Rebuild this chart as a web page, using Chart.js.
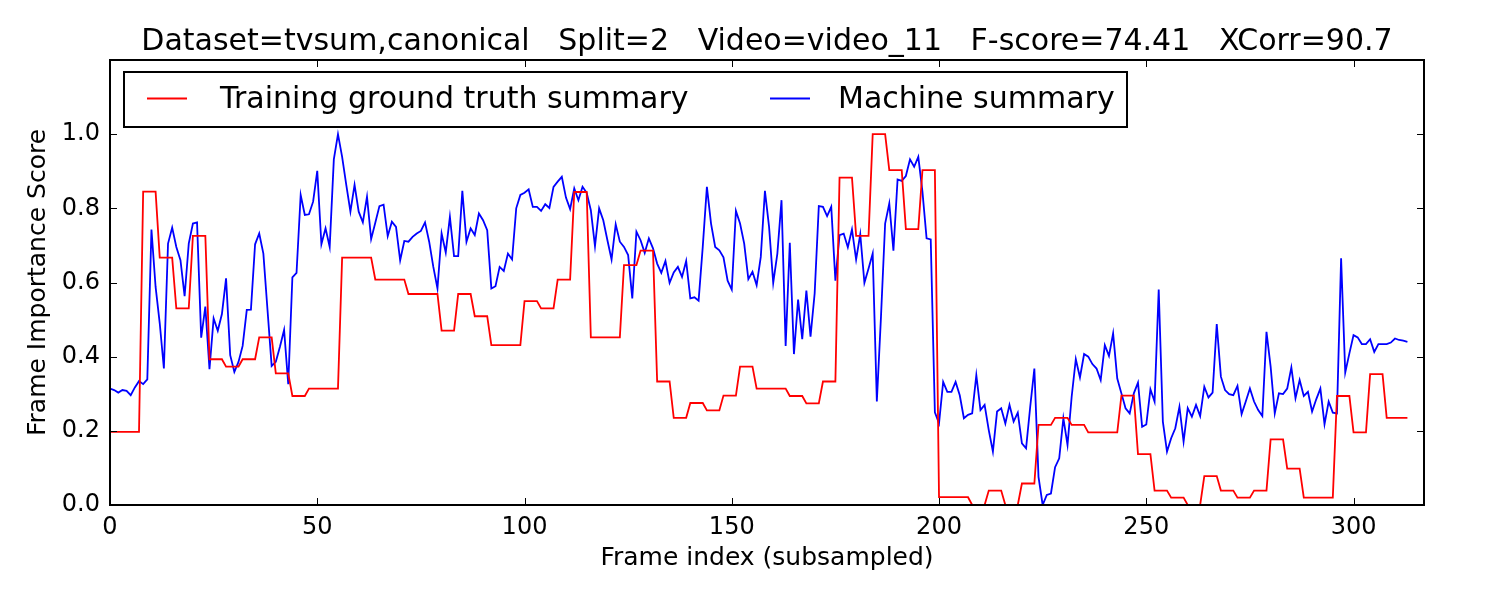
<!DOCTYPE html>
<html>
<head>
<meta charset="utf-8">
<script src="https://cdn.jsdelivr.net/npm/chart.js@4.4.1/dist/chart.umd.min.js"></script>
<style>
  html, body { margin: 0; padding: 0; background: #fff; }
  #wrap { width: 1500px; height: 600px; }
</style>
</head>
<body>
<div id="wrap"><canvas id="chart" width="1500" height="600"></canvas></div>
<script>
// values, one entry per subsampled frame
const TITLE = "Dataset=tvsum,canonical   Split=2   Video=video_11   F-score=74.41   XCorr=90.7"
const SERIES_LABELS = ["Training ground truth summary", "Machine summary"]
const X_TICKS = [0, 50, 100, 150, 200, 250, 300]
const Y_TICKS = [0.0, 0.2, 0.4, 0.6, 0.8, 1.0]

const gtScores = [
  .197, .197, .197, .197, .197, .197, .197, .197,
  .845, .845, .845, .845, .667, .667, .667, .667,
  .53, .53, .53, .53, .726, .726, .726, .726,
  .393, .393, .393, .393, .373, .373, .373, .373,
  .393, .393, .393, .393, .452, .452, .452, .452,
  .355, .355, .355, .355, .294, .294, .294, .294,
  .314, .314, .314, .314, .314, .314, .314, .314,
  .667, .667, .667, .667, .667, .667, .667, .667,
  .608, .608, .608, .608, .608, .608, .608, .608,
  .569, .569, .569, .569, .569, .569, .569, .569,
  .47, .47, .47, .47, .569, .569, .569, .569,
  .509, .509, .509, .509, .431, .431, .431, .431,
  .431, .431, .431, .431, .55, .55, .55, .55,
  .53, .53, .53, .53, .608, .608, .608, .608,
  .844, .844, .844, .844, .452, .452, .452, .452,
  .452, .452, .452, .452, .647, .647, .647, .647,
  .686, .686, .686, .686, .333, .333, .333, .333,
  .235, .235, .235, .235, .275, .275, .275, .275,
  .255, .255, .255, .255, .295, .295, .295, .295,
  .373, .373, .373, .373, .314, .314, .314, .314,
  .314, .314, .314, .314, .294, .294, .294, .294,
  .274, .274, .274, .274, .333, .333, .333, .333,
  .883, .883, .883, .883, .726, .726, .726, .726,
  1.0, 1.0, 1.0, 1.0, .903, .903, .903, .903,
  .744, .744, .744, .744, .903, .903, .903, .903,
  .021, .021, .021, .021, .021, .021, .021, .021,
  0, 0, 0, 0, .039, .039, .039, .039,
  0, 0, 0, 0, .058, .058, .058, .058,
  .216, .216, .216, .216, .235, .235, .235, .235,
  .216, .216, .216, .216, .196, .196, .196, .196,
  .196, .196, .196, .196, .295, .295, .295, .295,
  .137, .137, .137, .137, .039, .039, .039, .039,
  .02, .02, .02, .02, 0, 0, 0, 0,
  .078, .078, .078, .078, .039, .039, .039, .039,
  .02, .02, .02, .02, .039, .039, .039, .039,
  .177, .177, .177, .177, .098, .098, .098, .098,
  .02, .02, .02, .02, .02, .02, .02, .02,
  .294, .294, .294, .294, .196, .196, .196, .196,
  .353, .353, .353, .353, .235, .235, .235, .235,
  .235, .235
]

const machineScores = [
  .314, .31, .303, .31, .308, .296, .317, .334, .326, .339,
  .743, .588, .49, .368, .705, .748, .696, .66, .563, .705,
  .759, .762, .451, .535, .366, .503, .47, .515, .611, .404,
  .359, .386, .429, .526, .527, .703, .732, .678, .526, .375,
  .386, .427, .472, .326, .614, .626, .836, .782, .784, .818,
  .901, .703, .746, .696, .932, 1.0, .939, .863, .791, .863,
  .791, .762, .831, .717, .761, .806, .81, .725, .764, .75,
  .66, .712, .71, .723, .732, .739, .762, .71, .642, .584,
  .732, .681, .777, .671, .671, .847, .71, .746, .728, .786,
  .768, .741, .584, .59, .642, .631, .678, .662, .8, .836,
  .842, .851, .804, .804, .793, .811, .801, .858, .872, .885,
  .829, .798, .854, .822, .858, .842, .795, .698, .8, .768,
  .714, .662, .757, .71, .696, .674, .557, .737, .714, .68,
  .719, .692, .651, .626, .658, .599, .627, .642, .615, .658,
  .557, .56, .551, .696, .858, .759, .696, .687, .668, .605,
  .581, .793, .759, .705, .609, .629, .593, .669, .847, .75,
  .599, .678, .822, .429, .707, .407, .554, .447, .578, .454,
  .571, .806, .804, .779, .804, .605, .728, .732, .695, .743,
  .662, .73, .599, .638, .678, .279, .508, .759, .813, .686,
  .878, .874, .887, .932, .912, .939, .845, .719, .716, .25,
  .22, .332, .305, .305, .332, .296, .234, .243, .247, .35,
  .256, .27, .202, .144, .252, .261, .22, .27, .225, .249,
  .166, .153, .265, .368, .076, 0, .027, .031, .102, .126,
  .234, .162, .292, .393, .344, .407, .4, .38, .368, .337,
  .431, .402, .463, .341, .301, .261, .247, .301, .33, .211,
  .217, .312, .279, .581, .225, .144, .18, .207, .265, .171,
  .261, .238, .27, .24, .319, .29, .303, .488, .346, .31,
  .299, .296, .321, .245, .279, .314, .279, .256, .24, .467,
  .373, .247, .301, .299, .314, .371, .288, .337, .294, .305,
  .252, .285, .314, .218, .279, .249, .247, .665, .357, .409,
  .458, .452, .434, .434, .447, .413, .434, .434, .434, .438,
  .449, .445, .443, .44
]

const FONT = "'DejaVu Sans', sans-serif"
const COLORS = ["#ff0000", "#0000ff"]
const TICK_LEN = 7

// matplotlib-style frame: full box, inward ticks on all sides, title and boxed legend inside
const mplFrame = {
  id: "mplFrame",
  afterDraw(chart) {
    const { ctx, chartArea: a, scales: { x, y } } = chart
    ctx.save()
    ctx.strokeStyle = "#000"
    ctx.lineWidth = 1
    ctx.beginPath()
    x.ticks.forEach(t => {
      const px = Math.round(x.getPixelForValue(t.value)) + 0.5
      ctx.moveTo(px, a.bottom); ctx.lineTo(px, a.bottom - TICK_LEN)
      ctx.moveTo(px, a.top); ctx.lineTo(px, a.top + TICK_LEN)
    })
    y.ticks.forEach(t => {
      const py = Math.round(y.getPixelForValue(t.value)) + 0.5
      ctx.moveTo(a.left, py); ctx.lineTo(a.left + TICK_LEN, py)
      ctx.moveTo(a.right, py); ctx.lineTo(a.right - TICK_LEN, py)
    })
    ctx.stroke()
    ctx.lineWidth = 2
    ctx.strokeRect(a.left, a.top, a.right - a.left, a.bottom - a.top)

    // title
    ctx.fillStyle = "#000"
    ctx.font = "30px " + FONT
    ctx.textAlign = "center"
    ctx.textBaseline = "alphabetic"
    ctx.fillText(TITLE, (a.left + a.right) / 2, 50)

    // legend box
    const bx = a.left + 14, by = a.top + 12, bw = 1003, bh = 55
    ctx.fillStyle = "#fff"
    ctx.fillRect(bx, by, bw, bh)
    ctx.lineWidth = 2
    ctx.strokeStyle = "#000"
    ctx.strokeRect(bx, by, bw, bh)
    const entries = [{ line: 23, text: 96 }, { line: 646, text: 714 }]
    const midY = by + bh / 2
    ctx.textAlign = "left"
    ctx.textBaseline = "middle"
    ctx.font = "30px " + FONT
    chart.data.datasets.forEach((ds, i) => {
      const e = entries[i]
      ctx.strokeStyle = ds.borderColor
      ctx.lineWidth = 2
      ctx.beginPath()
      ctx.moveTo(bx + e.line, midY - 1); ctx.lineTo(bx + e.line + 40, midY - 1)
      ctx.stroke()
      ctx.fillStyle = "#000"
      ctx.fillText(ds.label, bx + e.text, midY + 1)
    })
    ctx.restore()
  }
}

const toPoints = arr => arr.map((v, i) => ({ x: i, y: v }))

new Chart(document.getElementById("chart"), {
  type: "line",
  data: {
    datasets: [
      { label: SERIES_LABELS[0], data: toPoints(gtScores), borderColor: COLORS[0], borderWidth: 1.8 },
      { label: SERIES_LABELS[1], data: toPoints(machineScores), borderColor: COLORS[1], borderWidth: 1.8 }
    ]
  },
  options: {
    responsive: false,
    animation: false,
    devicePixelRatio: 1,
    layout: { padding: { top: 60, right: 76, left: 0, bottom: 0 } },
    elements: { point: { radius: 0 }, line: { tension: 0, fill: false } },
    plugins: { legend: { display: false }, title: { display: false }, tooltip: { enabled: false } },
    scales: {
      x: {
        type: "linear",
        min: 0,
        max: 317,
        afterBuildTicks: s => { s.ticks = X_TICKS.map(v => ({ value: v })) },
        afterFit: s => { s.height = 95 },
        grid: { display: false, drawTicks: false },
        border: { display: false },
        ticks: { color: "#000", font: { family: FONT, size: 24 }, padding: 8, maxRotation: 0 },
        title: { display: true, text: "Frame index (subsampled)", color: "#000", font: { family: FONT, size: 25 }, padding: { top: 0, bottom: 27 } }
      },
      y: {
        min: 0,
        max: 1.2,
        afterBuildTicks: s => { s.ticks = Y_TICKS.map(v => ({ value: v })) },
        afterFit: s => { s.width = 110 },
        grid: { display: false, drawTicks: false },
        border: { display: false },
        ticks: { color: "#000", font: { family: FONT, size: 24 }, padding: 10, callback: v => v.toFixed(1) },
        title: { display: true, text: "Frame Importance Score", color: "#000", font: { family: FONT, size: 25 }, padding: { top: 23, bottom: 0 } }
      }
    }
  },
  plugins: [mplFrame]
})
</script>
</body>
</html>
